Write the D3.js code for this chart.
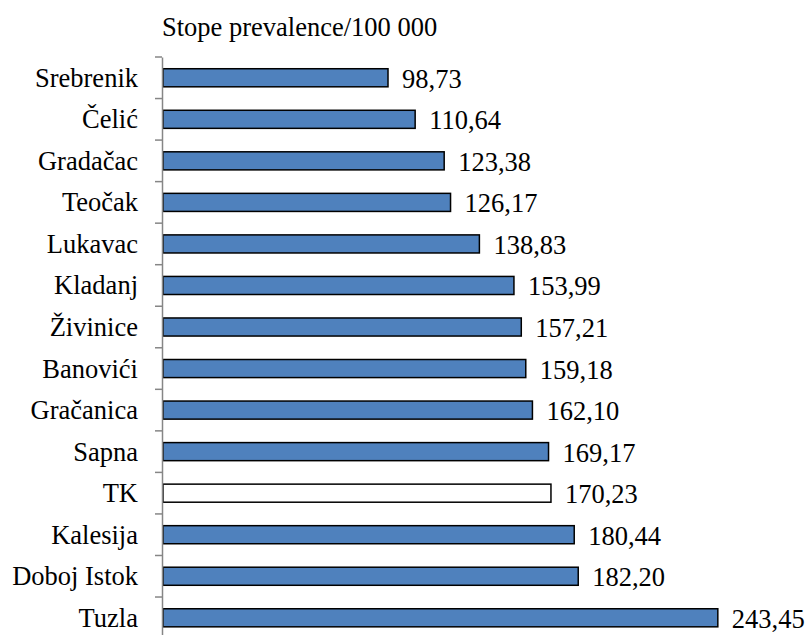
<!DOCTYPE html>
<html>
<head>
<meta charset="utf-8">
<script src="https://cdn.jsdelivr.net/npm/d3@7"></script>
<style>
  body { margin: 0; background: #fff; }
</style>
</head>
<body>
<script>
// data
const municipalities = ["Srebrenik", "Čelić", "Gradačac", "Teočak", "Lukavac", "Kladanj", "Živinice",
  "Banovići", "Gračanica", "Sapna", "TK", "Kalesija", "Doboj Istok", "Tuzla"];
const rates = [98.73, 110.64, 123.38, 126.17, 138.83, 153.99, 157.21, 159.18, 162.10, 169.17, 170.23, 180.44, 182.20, 243.45];
const highlight = ["TK"];
const titleText = "Stope prevalence/100 000";

var width = 810, height = 635;
var margin = {top: 57, left: 163};
var serif = '"Liberation Serif"';
var fontSize = "26.5px";

var svg = d3.select("body").append("svg")
    .attr("width", width)
    .attr("height", height);

const data = municipalities.map((m, i) => ({name: m, value: rates[i]}));

const xScale = d3.scaleLinear()
    .domain([0, 250])
    .range([margin.left, margin.left + 250 * 2.279]);

const step = 41.54;
const yScale = d3.scaleBand()
    .domain(municipalities)
    .range([margin.top, margin.top + step * municipalities.length])
    .paddingInner(0.565)
    .paddingOuter(0.2825);

// bars
svg.selectAll("rect.bar").data(data).enter().append("rect")
    .attr("class", "bar")
    .attr("x", xScale(0))
    .attr("y", d => yScale(d.name))
    .attr("width", d => xScale(d.value) - xScale(0))
    .attr("height", yScale.bandwidth())
    .attr("fill", d => highlight.includes(d.name) ? "#ffffff" : "#4F81BD")
    .attr("stroke", "#000")
    .attr("stroke-width", 1.5);

// y axis
const yAxis = d3.axisLeft(yScale).tickSize(0).tickPadding(24);
const gy = svg.append("g")
    .attr("transform", `translate(${xScale(0) - 1},0)`)
    .call(yAxis);
gy.select(".domain").attr("stroke", "#868686").attr("stroke-width", 1.5);
gy.selectAll(".tick text")
    .style("font-family", serif)
    .style("font-size", fontSize)
    .attr("fill", "#000")
    .attr("dy", "0.34em");

// boundary ticks between categories
const bounds = d3.range(municipalities.length + 1).map(i => margin.top + i * step);
svg.selectAll("line.bound").data(bounds).enter().append("line")
    .attr("class", "bound")
    .attr("x1", xScale(0) - 8).attr("x2", xScale(0) - 1)
    .attr("y1", d => d).attr("y2", d => d)
    .attr("stroke", "#868686")
    .attr("stroke-width", 1.5);

// value labels
svg.selectAll("text.val").data(data).enter().append("text")
    .attr("class", "val")
    .attr("x", d => xScale(d.value) + 14)
    .attr("y", d => yScale(d.name) + yScale.bandwidth() / 2 + 10)
    .style("font-family", serif)
    .style("font-size", fontSize)
    .text(d => d3.format(".2f")(d.value).replace(".", ","));

// title
svg.append("text")
    .attr("x", 162)
    .attr("y", 36)
    .style("font-family", serif)
    .style("font-size", fontSize)
    .text(titleText);
</script>
</body>
</html>
